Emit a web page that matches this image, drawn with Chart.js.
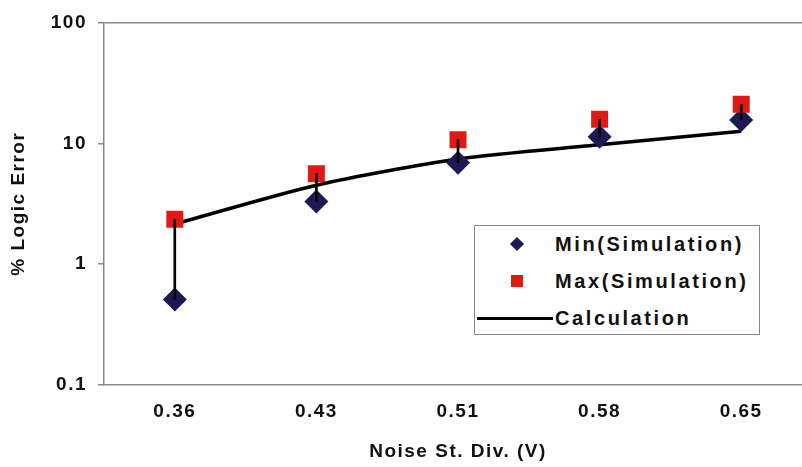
<!DOCTYPE html>
<html>
<head>
<meta charset="utf-8">
<script src="https://cdn.jsdelivr.net/npm/chart.js@4"></script>
<style>
  html, body { margin: 0; padding: 0; background: #fff; overflow: hidden; }
  #wrap { position: relative; width: 824px; height: 467px; }
  #legend {
    position: absolute; left: 474px; top: 225px; width: 286px; height: 110px;
    border: 1px solid #888; background: #fff; box-sizing: border-box;
    font: bold 20px "Liberation Sans", Arial, sans-serif; color: #111; letter-spacing: 2.6px;
  }
  .row { position: absolute; left: 0; height: 24px; line-height: 24px; }
  .row span.txt { position: absolute; left: 80px; white-space: nowrap; }
  .diamond { position: absolute; left: 37px; top: 7px; width: 10px; height: 10px; background: #1b1a57; transform: rotate(45deg); }
  .square { position: absolute; left: 36px; top: 6px; width: 12px; height: 12px; background: #e01a12; }
  .lineKey { position: absolute; left: 2px; top: 11px; width: 76px; height: 3px; background: #000; }
</style>
</head>
<body>
<div id="wrap">
  <canvas id="chart" width="824" height="467"></canvas>
  <div id="legend">
    <div class="row" style="top:6px"><i class="diamond"></i><span class="txt">Min(Simulation)</span></div>
    <div class="row" style="top:43px"><i class="square"></i><span class="txt">Max(Simulation)</span></div>
    <div class="row" style="top:80px"><i class="lineKey"></i><span class="txt">Calculation</span></div>
  </div>
</div>
<script>
// ── Data ───────────────────────────────────────────
const noiseLabels = ['0.36', '0.43', '0.51', '0.58', '0.65'];
const minSim      = [0.51, 3.3, 6.9, 11.3, 15.6];
const maxSim      = [2.35, 5.6, 10.7, 15.8, 21];
const calcValues  = [2.15, 4.5, 7.4, 9.7, 12.6];
const yTicks      = [0.1, 1, 10, 100];

const FONT = '"Liberation Sans", Arial, sans-serif';

// ranges for the min→max vertical lines
const rangeBars = noiseLabels.map((_, i) => [minSim[i], maxSim[i]]);

// wider text spacing, like the original export
const spacedText = {
  id: 'spacedText',
  beforeDraw: (chart) => { chart.ctx.letterSpacing = '1.5px'; }
};

new Chart(document.getElementById('chart'), {
  type: 'bar',
  plugins: [spacedText],
  data: {
    labels: noiseLabels,
    datasets: [
      {
        type: 'bar',
        label: 'range',
        data: rangeBars,
        backgroundColor: '#000',
        barThickness: 2,
        order: 0
      },
      {
        type: 'line',
        label: 'Calculation',
        data: calcValues,
        borderColor: '#000',
        borderWidth: 3.5,
        tension: 0.25,
        pointRadius: 0,
        fill: false,
        order: 3
      },
      {
        type: 'line',
        label: 'Min(Simulation)',
        data: minSim,
        showLine: false,
        pointStyle: 'rectRot',
        pointRadius: 12,
        pointBackgroundColor: '#1b1a57',
        pointBorderColor: '#1b1a57',
        pointBorderWidth: 0,
        order: 2
      },
      {
        type: 'line',
        label: 'Max(Simulation)',
        data: maxSim,
        showLine: false,
        pointStyle: 'rect',
        pointRadius: 12,
        pointBackgroundColor: '#e01a12',
        pointBorderColor: '#e01a12',
        pointBorderWidth: 0,
        order: 1
      }
    ]
  },
  options: {
    responsive: false,
    animation: false,
    layout: { padding: { top: 15, right: 4, left: 0, bottom: 0 } },
    plugins: {
      legend: { display: false },
      tooltip: { enabled: false }
    },
    scales: {
      x: {
        offset: true,
        grid: { display: false, drawTicks: false },
        border: { color: '#888', width: 1.5 },
        ticks: { color: '#111', padding: 15, font: { family: FONT, size: 19, weight: 'bold' } },
        title: {
          display: true,
          text: 'Noise St. Div. (V)',
          color: '#111',
          padding: { top: 0, bottom: 4 },
          font: { family: FONT, size: 19, weight: 'bold' }
        },
        afterFit: (s) => { s.height = 82; }
      },
      y: {
        type: 'logarithmic',
        min: 0.1,
        max: 100,
        afterBuildTicks: (s) => { s.ticks = yTicks.map(v => ({ value: v })); },
        grid: {
          color: (c) => (c.tick && c.tick.value === 100 ? '#888' : 'rgba(0,0,0,0)'),
          tickColor: '#888',
          tickLength: 6,
          lineWidth: 1.5
        },
        border: { color: '#888', width: 1.5 },
        ticks: {
          color: '#111',
          padding: 11,
          font: { family: FONT, size: 19, weight: 'bold' },
          callback: (v) => String(v)
        },
        title: {
          display: true,
          text: '% Logic Error',
          color: '#111',
          padding: { top: 7, bottom: 0 },
          font: { family: FONT, size: 19, weight: 'bold' }
        },
        afterFit: (s) => { s.width = 104; }
      }
    }
  }
});
</script>
</body>
</html>
